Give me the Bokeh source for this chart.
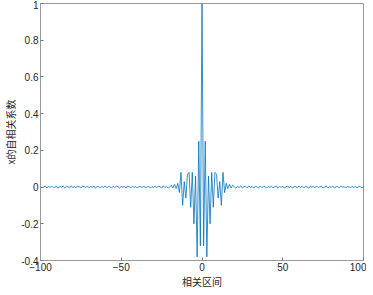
import numpy as np
from bokeh.plotting import figure
from bokeh.models import FixedTicker, CustomJSTickFormatter, Range1d
from bokeh.embed import file_html
from bokeh.resources import INLINE

# autocorrelation values for lags 0..100 (symmetric)
r_pos = [1.0, -0.32, 0.25, -0.38, 0.06, -0.2, 0.08, -0.11, 0.08, 0.07,
         -0.06, 0.03, -0.1, 0.08, -0.03, 0.02, -0.008, 0.015, -0.005, 0.01,
         0.0,
         -0.006, 0.004, -0.003, 0.007, -0.005, 0.002, 0.005, -0.004, 0.006, -0.002,
         0.003, -0.006, 0.004, 0.001, -0.005, 0.006, -0.003, 0.002, 0.004, -0.006,
         0.003, -0.002, 0.005, -0.004, 0.001, 0.006, -0.005, 0.003, -0.001, 0.004,
         -0.006, 0.002, 0.005, -0.003, 0.004, -0.005, 0.001, 0.003, -0.004, 0.006,
         -0.002, 0.004, -0.005, 0.003, 0.002, -0.006, 0.005, -0.001, 0.003, -0.004,
         0.006, -0.003, 0.002, 0.004, -0.005, 0.001, 0.005, -0.004, 0.003, -0.002,
         0.006, -0.005, 0.002, 0.003, -0.004, 0.005, -0.001, 0.004, -0.006, 0.003,
         0.001, -0.004, 0.005, -0.002, 0.003, -0.005, 0.004, 0.002, -0.003, 0.001]
x_ticks = [-100, -50, 0, 50, 100]
y_ticks = [-0.4, -0.2, 0, 0.2, 0.4, 0.6, 0.8, 1]
x_label = "相关区间"
y_label = "x的自相关系数"

lags = list(range(-100, 101))
vals = r_pos[:0:-1] + r_pos

p = figure(frame_width=323, frame_height=257, output_backend="svg", toolbar_location=None,
           x_range=Range1d(-100, 100), y_range=Range1d(-0.4, 1),
           min_border_left=0, min_border_right=3, min_border_top=3, min_border_bottom=0)
p.line(lags, vals, line_color="#0072BD", line_width=0.8)

p.grid.visible = False
p.outline_line_color = "#999999"
p.outline_line_width = 1
p.background_fill_color = "white"

fmt = CustomJSTickFormatter(code="""
const v = Math.round(tick*10)/10;
return (v === 0) ? '0' : String(v);
""")

p.xaxis.ticker = FixedTicker(ticks=x_ticks)
p.yaxis.ticker = FixedTicker(ticks=y_ticks)
p.yaxis.formatter = fmt
for ax in (p.xaxis[0], p.yaxis[0]):
    ax.axis_line_color = "#999999"
    ax.major_tick_line_color = "#777777"
    ax.major_tick_in = 3
    ax.major_tick_out = 0
    ax.minor_tick_line_color = None
    ax.major_label_text_font = "Liberation Sans"
    ax.major_label_text_font_size = "10px"
    ax.major_label_text_color = "#262626"
    ax.major_label_standoff = 2
    ax.axis_label_text_font = "Noto Sans CJK SC"
    ax.axis_label_text_font_size = "10px"
    ax.axis_label_text_font_style = "normal"
    ax.axis_label_text_color = "#262626"
    ax.axis_label_standoff = 0
p.xaxis.axis_label = x_label
p.yaxis.axis_label = y_label

open("out.html", "w").write(file_html(p, INLINE))
